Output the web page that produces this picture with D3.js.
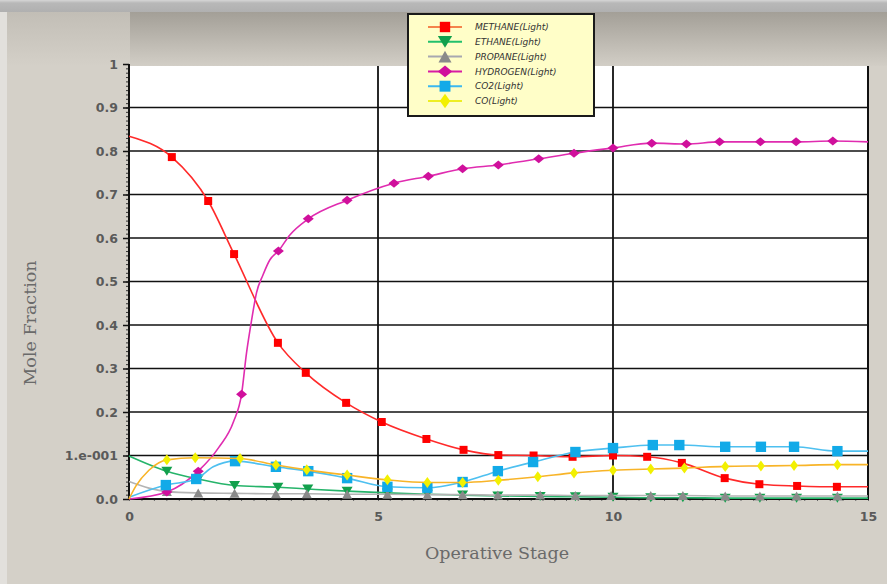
<!DOCTYPE html>
<html>
<head>
<meta charset="utf-8">
<script src="https://cdn.jsdelivr.net/npm/d3@7"></script>
<style>
  body { margin: 0; background: #d4d0c8; }
  svg { display: block; }
</style>
</head>
<body>
<svg id="chart" width="887" height="584"></svg>
<script>
// ---- axis ticks ----
const stageTicks = [0, 5, 10, 15];
const stageLabels = ["0", "5", "10", "15"];
const fracTicks = [0, 0.1, 0.2, 0.3, 0.4, 0.5, 0.6, 0.7, 0.8, 0.9, 1];
const fracLabels = ["0.0", "1.e-001", "0.2", "0.3", "0.4", "0.5", "0.6", "0.7", "0.8", "0.9", "1"];

// ---- series names ----
const seriesNames = ["METHANE(Light)", "ETHANE(Light)", "PROPANE(Light)", "HYDROGEN(Light)", "CO2(Light)", "CO(Light)"];

// ---- METHANE: marked points and extra curve knots ----
const methaneStage = [0.86, 1.59, 2.11, 2.99, 3.55, 4.36, 5.08, 6.03, 6.82, 7.56, 8.31, 9.14, 10.0, 10.67, 11.35, 12.19, 12.87, 13.61, 14.39];
const methaneFrac  = [0.786, 0.685, 0.563, 0.359, 0.290, 0.221, 0.177, 0.138, 0.113, 0.101, 0.100, 0.097, 0.100, 0.097, 0.083, 0.048, 0.034, 0.030, 0.028];
const methaneKnotStage = [0, 15];
const methaneKnotFrac  = [0.834, 0.028];

// ---- ETHANE ----
const ethaneStage = [0.76, 1.39, 2.12, 2.99, 3.59, 4.38, 5.2, 6.05, 6.8, 7.55, 8.45, 9.2, 10.0, 10.74, 11.37, 12.2, 12.88, 13.6, 14.4];
const ethaneFrac  = [0.064, 0.046, 0.031, 0.027, 0.023, 0.018, 0.014, 0.011, 0.009, 0.007, 0.006, 0.005, 0.004, 0.003, 0.003, 0.002, 0.002, 0.002, 0.002];
const ethaneKnotStage = [0, 15];
const ethaneKnotFrac  = [0.099, 0.002];

// ---- PROPANE ----
const propaneStage = [0.76, 1.39, 2.12, 2.95, 3.57, 4.38, 5.2, 6.05, 6.8, 7.55, 8.45, 9.2, 9.96, 10.74, 11.37, 12.2, 12.88, 13.6, 14.4];
const propaneFrac  = [0.017, 0.014, 0.013, 0.012, 0.012, 0.011, 0.011, 0.010, 0.010, 0.009, 0.009, 0.008, 0.008, 0.008, 0.008, 0.007, 0.007, 0.007, 0.007];
const propaneKnotStage = [0, 0.4, 15];
const propaneKnotFrac  = [0.040, 0.025, 0.007];

// ---- HYDROGEN ----
const hydrogenStage = [0.76, 1.39, 2.26, 3.0, 3.6, 4.38, 5.34, 6.07, 6.8, 7.56, 8.42, 9.17, 10.0, 10.76, 11.44, 12.09, 12.89, 13.59, 14.31];
const hydrogenFrac  = [0.016, 0.064, 0.241, 0.570, 0.644, 0.687, 0.726, 0.742, 0.759, 0.768, 0.782, 0.795, 0.807, 0.818, 0.816, 0.821, 0.821, 0.821, 0.823];
const hydrogenKnotStage = [0, 1.8, 2.1, 2.36, 2.46, 2.56, 2.69, 2.83, 3.23, 15];
const hydrogenKnotFrac  = [0.0, 0.118, 0.178, 0.336, 0.410, 0.474, 0.515, 0.550, 0.607, 0.821];

// ---- CO2 ----
const co2Stage = [0.74, 1.35, 2.13, 2.95, 3.6, 4.38, 5.2, 6.05, 6.8, 7.55, 8.3, 9.2, 10.0, 10.78, 11.3, 12.2, 12.9, 13.55, 14.4];
const co2Frac  = [0.032, 0.046, 0.087, 0.074, 0.064, 0.048, 0.028, 0.026, 0.039, 0.064, 0.085, 0.108, 0.117, 0.124, 0.124, 0.120, 0.120, 0.120, 0.110];
const co2KnotStage = [0, 1.69, 15];
const co2KnotFrac  = [0.004, 0.074, 0.110];

// ---- CO ----
const coStage = [0.76, 1.33, 2.23, 2.95, 3.57, 4.38, 5.2, 6.05, 6.8, 7.56, 8.4, 9.17, 10.0, 10.74, 11.4, 12.2, 12.9, 13.55, 14.4];
const coFrac  = [0.090, 0.095, 0.093, 0.078, 0.067, 0.055, 0.044, 0.038, 0.038, 0.043, 0.051, 0.060, 0.066, 0.069, 0.071, 0.075, 0.076, 0.077, 0.079];
const coKnotStage = [0, 0.14, 0.4, 15];
const coKnotFrac  = [0.0, 0.030, 0.066, 0.079];

// ---- styles ----
const lineColors   = ["#ff2a2a", "#26b46a", "#b4b4b4", "#e02cb0", "#4ec0f0", "#f8b428"];
const markerColors = ["#ff0000", "#12a04c", "#8a8a8a", "#d0109c", "#12aae8", "#f2f000"];
const legendLineColors = ["#f4844c", "#22c06c", "#a8a8b0", "#d81ca4", "#3cb8f0", "#eeee22"];
const markerShapes = ["square", "triDown", "triUp", "diamondWide", "squareBig", "diamondTall"];

const stageSets = [
  [methaneStage, methaneFrac, methaneKnotStage, methaneKnotFrac],
  [ethaneStage, ethaneFrac, ethaneKnotStage, ethaneKnotFrac],
  [propaneStage, propaneFrac, propaneKnotStage, propaneKnotFrac],
  [hydrogenStage, hydrogenFrac, hydrogenKnotStage, hydrogenKnotFrac],
  [co2Stage, co2Frac, co2KnotStage, co2KnotFrac],
  [coStage, coFrac, coKnotStage, coKnotFrac]
];

const series = seriesNames.map((name, i) => {
  const [ms, mf, ks, kf] = stageSets[i];
  const marks = ms.map((s, j) => ({ s, f: mf[j] }));
  const knots = ks.map((s, j) => ({ s, f: kf[j] }));
  const curve = marks.concat(knots).sort((a, b) => a.s - b.s);
  return { name, marks, curve, line: lineColors[i], marker: markerColors[i], legendLine: legendLineColors[i], shape: markerShapes[i] };
});

// ---- layout ----
const W = 887, H = 584;
const plotLeft = 129, plotRight = 868, plotTop = 64, plotBottom = 499;

const svg = d3.select("#chart");
const defs = svg.append("defs");

function vGrad(id, stops) {
  const g = defs.append("linearGradient").attr("id", id).attr("x1", 0).attr("y1", 0).attr("x2", 0).attr("y2", 1);
  stops.forEach(([o, c]) => g.append("stop").attr("offset", o).attr("stop-color", c));
}
vGrad("topStrip", [[0, "#d6d6d6"], [0.25, "#b8b8b8"], [1, "#b0b0b0"]]);
vGrad("headRight", [[0, "#a39f97"], [1, "#d2cec6"]]);
vGrad("headLeft", [[0, "#c2beb6"], [1, "#d4d0c8"]]);

// window background
svg.append("rect").attr("width", W).attr("height", H).attr("fill", "#d4d0c8");
svg.append("rect").attr("x", 0).attr("y", 0).attr("width", W).attr("height", 12).attr("fill", "url(#topStrip)");
svg.append("rect").attr("x", 130).attr("y", 12).attr("width", W - 130).attr("height", 54).attr("fill", "url(#headRight)");
svg.append("rect").attr("x", 0).attr("y", 12).attr("width", 130).attr("height", 54).attr("fill", "url(#headLeft)");
svg.append("rect").attr("x", 0).attr("y", 12).attr("width", 7).attr("height", H - 12).attr("fill", "#e2e0dc");

// ---- scales ----
const x = d3.scaleLinear().domain([0, 5, 10, 15]).range([plotLeft, 378, 613, plotRight]);
const y = d3.scaleLinear().domain([0, 1]).range([plotBottom, plotTop]);

// plot area
svg.append("rect")
  .attr("x", plotLeft).attr("y", plotTop + 2)
  .attr("width", plotRight - plotLeft).attr("height", plotBottom - plotTop - 2)
  .attr("fill", "#ffffff");

// horizontal grid
svg.append("g").selectAll("line")
  .data(fracTicks.filter(t => t > 0 && t < 1))
  .join("line")
  .attr("x1", plotLeft).attr("x2", plotRight)
  .attr("y1", d => y(d)).attr("y2", d => y(d))
  .attr("stroke", "#111").attr("stroke-width", 1.6);

// vertical grid
svg.append("g").selectAll("line")
  .data(stageTicks.filter(t => t > 0 && t < 15))
  .join("line")
  .attr("x1", d => x(d)).attr("x2", d => x(d))
  .attr("y1", plotTop + 2).attr("y2", plotBottom)
  .attr("stroke", "#111").attr("stroke-width", 1.8);

// right border
svg.append("line")
  .attr("x1", plotRight).attr("x2", plotRight)
  .attr("y1", plotTop + 2).attr("y2", plotBottom)
  .attr("stroke", "#111").attr("stroke-width", 2);

// ---- axes ----
const tickFont = "'DejaVu Sans', Verdana, sans-serif";

const yAxis = d3.axisLeft(y).tickValues(fracTicks)
  .tickFormat((d, i) => fracLabels[i]).tickSize(6).tickPadding(5);
const yMinor = d3.axisLeft(y).tickValues(d3.range(0, 1.0001, 0.01)).tickFormat("").tickSize(3);

const gyMinor = svg.append("g").attr("transform", `translate(${plotLeft},0)`).call(yMinor);
gyMinor.select(".domain").remove();
gyMinor.selectAll("line").attr("stroke", "#333");

const gy = svg.append("g").attr("transform", `translate(${plotLeft},0)`).call(yAxis);
gy.select(".domain").attr("stroke", "#111").attr("stroke-width", 2).attr("d", `M0,${plotTop}V${plotBottom}`);
gy.selectAll(".tick line").attr("stroke", "#111").attr("stroke-width", 1.5);
gy.selectAll("text")
  .attr("font-family", tickFont).attr("font-size", 12.5).attr("font-weight", "bold")
  .attr("fill", "#5a5a5a");

const xAxis = d3.axisBottom(x).tickValues(stageTicks)
  .tickFormat((d, i) => stageLabels[i]).tickSize(0).tickPadding(13);
const xMinor = d3.axisBottom(x).tickValues(d3.range(0, 15.0001, 0.25)).tickFormat("").tickSize(2);

const gxMinor = svg.append("g").attr("transform", `translate(0,${plotBottom})`).call(xMinor);
gxMinor.select(".domain").remove();
gxMinor.selectAll("line").attr("stroke", "#666");

const gx = svg.append("g").attr("transform", `translate(0,${plotBottom})`).call(xAxis);
gx.select(".domain").attr("stroke", "#111").attr("stroke-width", 2).attr("d", `M${plotLeft - 1},0H${plotRight + 1}`);
gx.selectAll("text")
  .attr("font-family", tickFont).attr("font-size", 12.5).attr("font-weight", "bold")
  .attr("fill", "#5a5a5a");

// axis titles
const titleFont = "'DejaVu Serif', 'Liberation Serif', serif";
svg.append("text")
  .attr("x", 497).attr("y", 559)
  .attr("text-anchor", "middle")
  .attr("font-family", titleFont).attr("font-size", 17.5)
  .attr("fill", "#6a6a6a")
  .text("Operative Stage");
svg.append("text")
  .attr("transform", "translate(36,323) rotate(-90)")
  .attr("text-anchor", "middle")
  .attr("font-family", titleFont).attr("font-size", 17.5)
  .attr("fill", "#6a6a6a")
  .text("Mole Fraction");

// ---- marker paths ----
function markerPath(shape, k) {
  const s = k || 1;
  switch (shape) {
    case "square":      { const h = 4 * s; return `M${-h},${-h}H${h}V${h}H${-h}Z`; }
    case "squareBig":   { const h = 5.2 * s; return `M${-h},${-h}H${h}V${h}H${-h}Z`; }
    case "triDown":     { const w = 5.5 * s, h = 4.5 * s; return `M${-w},${-h}H${w}L0,${h}Z`; }
    case "triUp":       { const w = 5 * s, h = 4.5 * s; return `M${-w},${h}H${w}L0,${-h}Z`; }
    case "diamondWide": { const w = 5.5 * s, h = 4.5 * s; return `M${-w},0L0,${-h}L${w},0L0,${h}Z`; }
    case "diamondTall": { const w = 4 * s, h = 5.5 * s; return `M${-w},0L0,${-h}L${w},0L0,${h}Z`; }
  }
}

// ---- series ----
const lineGen = d3.line()
  .x(d => x(d.s)).y(d => y(d.f))
  .curve(d3.curveMonotoneX);

const gSeries = svg.append("g");
series.forEach(sr => {
  const g = gSeries.append("g");
  g.append("path")
    .attr("d", lineGen(sr.curve))
    .attr("fill", "none")
    .attr("stroke", sr.line)
    .attr("stroke-width", 1.6);
  g.selectAll("path.mk")
    .data(sr.marks)
    .join("path")
    .attr("class", "mk")
    .attr("transform", d => `translate(${x(d.s)},${y(d.f)})`)
    .attr("d", markerPath(sr.shape))
    .attr("fill", sr.marker);
});

// ---- legend ----
const legend = svg.append("g");
legend.append("rect")
  .attr("x", 408).attr("y", 14).attr("width", 186).attr("height", 102)
  .attr("fill", "#fffec8").attr("stroke", "#1a1a1a").attr("stroke-width", 2);

const rowY = d3.scaleLinear().domain([0, 5]).range([27, 101]);
series.forEach((sr, i) => {
  const yy = rowY(i);
  legend.append("line")
    .attr("x1", 428).attr("x2", 462).attr("y1", yy).attr("y2", yy)
    .attr("stroke", sr.legendLine).attr("stroke-width", 2);
  legend.append("path")
    .attr("transform", `translate(445,${yy})`)
    .attr("d", markerPath(sr.shape, sr.shape === "squareBig" ? 1.05 : 1.3))
    .attr("fill", sr.marker);
  legend.append("text")
    .attr("x", 475).attr("y", yy).attr("dy", "0.35em")
    .attr("font-family", tickFont).attr("font-size", 9).attr("font-style", "italic")
    .attr("fill", "#333")
    .text(sr.name);
});
</script>
</body>
</html>
